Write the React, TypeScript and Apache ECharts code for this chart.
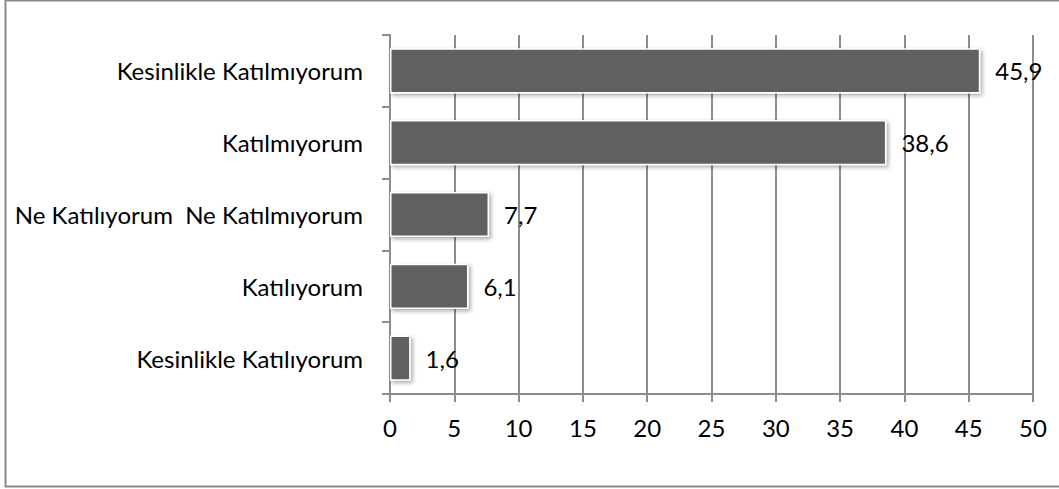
import React, { useEffect, useRef } from "react";
import * as echarts from "echarts";

const categories = [
  "Kesinlikle Katılmıyorum",
  "Katılmıyorum",
  "Ne Katılıyorum  Ne Katılmıyorum",
  "Katılıyorum",
  "Kesinlikle Katılıyorum",
];
const values = [45.9, 38.6, 7.7, 6.1, 1.6];
const xMin = 0;
const xMax = 50;
const xStep = 5;

const FONT = "Lato, 'Open Sans', sans-serif";
const GRAY = "#8c8c8c";

export default function App() {
  const ref = useRef<HTMLDivElement>(null);
  useEffect(() => {
    document.body.style.margin = "0";
    const chart = echarts.init(ref.current!, undefined, { renderer: "svg" });
    chart.setOption({
      animation: false,
      backgroundColor: "#ffffff",
      grid: { left: 390, right: 26, top: 35, bottom: 95, containLabel: false },
      graphic: [
        {
          type: "rect",
          shape: { x: 5.5, y: 0.5, width: 1070, height: 486 },
          style: { fill: "none", stroke: "#8a8a8a", lineWidth: 2 },
          silent: true,
          z: 100,
        },
      ],
      xAxis: {
        type: "value",
        min: xMin,
        max: xMax,
        interval: xStep,
        axisLine: { show: true, lineStyle: { color: GRAY, width: 2 } },
        axisTick: { show: true, length: 8, lineStyle: { color: GRAY, width: 2 } },
        splitLine: { show: true, lineStyle: { color: GRAY, width: 2 } },
        axisLabel: {
          color: "#000",
          fontSize: 24,
          fontFamily: FONT,
          margin: 21,
        },
      },
      yAxis: {
        type: "category",
        inverse: true,
        data: categories,
        axisLine: { show: true, lineStyle: { color: GRAY, width: 2 } },
        axisTick: { show: true, length: 8, lineStyle: { color: GRAY, width: 2 } },
        axisLabel: {
          color: "#000",
          fontSize: 24,
          fontFamily: FONT,
          margin: 27,
        },
      },
      series: [
        {
          type: "bar",
          data: values,
          barCategoryGap: "37%",
          itemStyle: {
            color: "#606060",
            borderColor: "#ffffff",
            borderWidth: 1.5,
            shadowColor: "rgba(0,0,0,0.35)",
            shadowBlur: 4,
            shadowOffsetX: 2,
            shadowOffsetY: 2,
          },
          label: {
            show: true,
            position: "right",
            distance: 15,
            color: "#000",
            fontSize: 24,
            fontFamily: FONT,
            formatter: (p: any) => String(p.value).replace(".", ","),
          },
        },
      ],
    });
    return () => chart.dispose();
  }, []);
  return <div ref={ref} style={{ width: 1059, height: 489 }} />;
}
